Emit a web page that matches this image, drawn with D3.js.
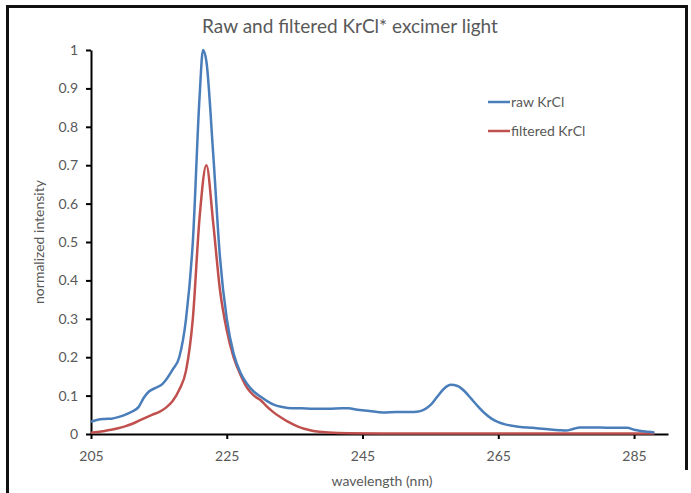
<!DOCTYPE html>
<html>
<head>
<meta charset="utf-8">
<script src="https://cdn.jsdelivr.net/npm/d3@7"></script>
<style>
  body { margin: 0; background: #fff; }
  svg text { font-family: Lato, "Open Sans", sans-serif; fill: #595959; }
</style>
</head>
<body>
<div id="chart"></div>
<script>
// wavelength (nm) and normalized intensity
const rawWavelengths = [205, 206, 207, 208, 209, 210, 211, 212, 212.8, 213.5, 214.5, 215.5, 216, 217, 218, 219, 220, 221, 221.5, 222, 223, 224, 225, 226, 227, 228, 229, 230, 231, 232, 233, 234, 236, 238, 240, 242, 243, 244, 246, 248, 250, 252, 253, 254, 255, 256, 257, 258, 259, 260, 261, 262, 263, 264, 265, 266, 268, 270, 272, 274, 275, 276, 277, 280, 282, 284, 285, 286, 287, 288];
const rawValues = [0.032, 0.037, 0.039, 0.040, 0.044, 0.050, 0.058, 0.070, 0.095, 0.110, 0.120, 0.130, 0.140, 0.167, 0.200, 0.300, 0.500, 0.880, 1.000, 0.970, 0.730, 0.460, 0.300, 0.210, 0.160, 0.130, 0.110, 0.097, 0.085, 0.076, 0.071, 0.068, 0.067, 0.066, 0.066, 0.067, 0.067, 0.064, 0.060, 0.056, 0.057, 0.057, 0.058, 0.063, 0.075, 0.097, 0.118, 0.128, 0.125, 0.112, 0.092, 0.072, 0.054, 0.040, 0.031, 0.025, 0.019, 0.016, 0.013, 0.010, 0.009, 0.013, 0.017, 0.017, 0.016, 0.016, 0.011, 0.008, 0.006, 0.004];

const filteredWavelengths = [205, 206, 207, 208, 209, 210, 211, 212, 213, 214, 215, 216, 217, 218, 219, 220, 221, 222, 223, 224, 225, 226, 227, 228, 229, 230, 231, 232, 233, 234, 235, 236, 237, 238, 240, 243, 250, 260, 270, 280, 288];
const filteredValues = [0.003, 0.005, 0.008, 0.011, 0.015, 0.020, 0.026, 0.034, 0.042, 0.050, 0.057, 0.068, 0.085, 0.115, 0.165, 0.300, 0.565, 0.700, 0.550, 0.375, 0.270, 0.200, 0.155, 0.120, 0.100, 0.088, 0.070, 0.055, 0.043, 0.032, 0.023, 0.016, 0.011, 0.007, 0.004, 0.002, 0.001, 0.001, 0.001, 0.001, 0.001];

const seriesNames = ["raw KrCl", "filtered KrCl"];
const seriesColors = ["#4a7ebb", "#c0504d"];
const xTicks = [205, 225, 245, 265, 285];
const yTicks = [0, 0.1, 0.2, 0.3, 0.4, 0.5, 0.6, 0.7, 0.8, 0.9, 1];

const drawChart = () => {

  /*******************************/
  /*    Declare the constants    */
  /*******************************/
  const width = 691;
  const height = 493;
  const margin = {top: 50, right: 23, bottom: 59, left: 91};
  const innerWidth = width - margin.left - margin.right;
  const innerHeight = height - margin.top - margin.bottom;

  const svg = d3.select("#chart")
    .append("svg")
      .attr("width", width)
      .attr("height", height);

  // Frame round the picture
  svg.append("path")
    .attr("d", `M7.5,${height} V6.5 H686.5 V470`)
    .attr("fill", "none")
    .attr("stroke", "#111")
    .attr("stroke-width", 3);

  const innerChart = svg.append("g")
    .attr("transform", `translate(${margin.left}, ${margin.top})`);

  /****************************/
  /*    Declare the scales    */
  /****************************/
  const xScale = d3.scaleLinear()
    .domain([205, 290])
    .range([0, innerWidth]);

  const yScale = d3.scaleLinear()
    .domain([0, 1])
    .range([innerHeight, 0]);

  /**************************/
  /*      Add the axes      */
  /**************************/
  const bottomAxis = d3.axisBottom(xScale)
    .tickValues(xTicks)
    .tickSize(5)
    .tickSizeOuter(0)
    .tickPadding(12);
  const xAxis = innerChart.append("g")
    .attr("transform", `translate(0, ${innerHeight})`)
    .call(bottomAxis);

  const leftAxis = d3.axisLeft(yScale)
    .tickValues(yTicks)
    .tickFormat(d3.format("~g"))
    .tickSize(5)
    .tickSizeOuter(0)
    .tickPadding(8);
  const yAxis = innerChart.append("g")
    .call(leftAxis);

  [xAxis, yAxis].forEach(axis => {
    axis.selectAll(".domain, line").attr("stroke", "#000").attr("stroke-width", 2);
    axis.selectAll("text")
      .attr("font-size", 14)
      .attr("font-family", "Lato, sans-serif")
      .attr("fill", "#595959");
  });

  // Titles
  svg.append("text")
    .text("Raw and filtered KrCl* excimer light")
    .attr("x", 350)
    .attr("y", 33)
    .attr("text-anchor", "middle")
    .attr("font-size", 19);

  svg.append("text")
    .text("wavelength (nm)")
    .attr("x", 382)
    .attr("y", 486)
    .attr("text-anchor", "middle")
    .attr("font-size", 14);

  svg.append("text")
    .text("normalized intensity")
    .attr("transform", "translate(44, 242) rotate(-90)")
    .attr("text-anchor", "middle")
    .attr("font-size", 14);

  /****************************/
  /*      Add the curves      */
  /****************************/
  const lineGen = d3.line()
    .x(d => xScale(d[0]))
    .y(d => yScale(d[1]))
    .curve(d3.curveMonotoneX);

  const series = [
    d3.zip(rawWavelengths, rawValues),
    d3.zip(filteredWavelengths, filteredValues)
  ];

  // filtered first so the raw line sits on top at the base line
  [1, 0].forEach(i => {
    innerChart.append("path")
      .attr("d", lineGen(series[i]))
      .attr("fill", "none")
      .attr("stroke", seriesColors[i])
      .attr("stroke-width", 2.5)
      .attr("stroke-linejoin", "round");
  });

  /****************************/
  /*      Add the legend      */
  /****************************/
  const legend = svg.append("g")
    .attr("transform", "translate(488, 102)");
  seriesNames.forEach((name, i) => {
    legend.append("line")
      .attr("x1", 0)
      .attr("x2", 22)
      .attr("y1", i * 29)
      .attr("y2", i * 29)
      .attr("stroke", seriesColors[i])
      .attr("stroke-width", 2.5);
    legend.append("text")
      .text(name)
      .attr("x", 23)
      .attr("y", i * 29 + 5)
      .attr("font-size", 14);
  });
};

drawChart();
</script>
</body>
</html>
